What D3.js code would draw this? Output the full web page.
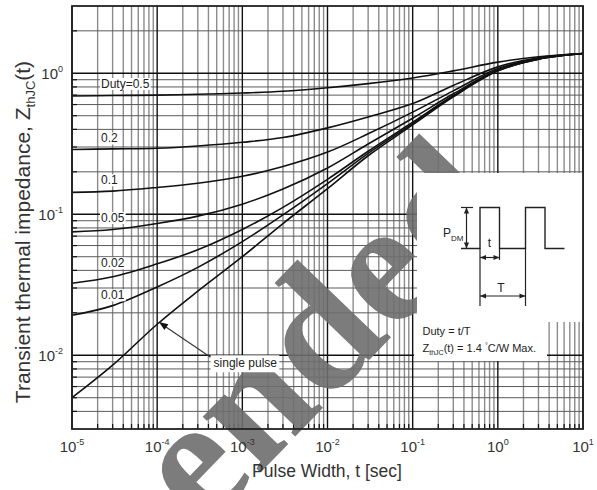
<!DOCTYPE html>
<html>
<head>
<meta charset="utf-8">
<script src="https://cdn.jsdelivr.net/npm/d3@7"></script>
<style>
  body { margin: 0; background: #fff; }
  svg { display: block; font-family: "Liberation Sans", Arial, sans-serif; }
</style>
</head>
<body>
<div id="chart"></div>
<script>
// pulse width samples [sec]
var pulseWidth = [1e-5, 3e-5, 1e-4, 3e-4, 1e-3, 3e-3, 1e-2, 3e-2, 1e-1, 3e-1, 1, 3, 10];

// Zth(t), one array per duty
var duty05 = [0.69, 0.695, 0.70, 0.71, 0.724, 0.745, 0.79, 0.845, 0.926, 1.04, 1.20, 1.31, 1.38];
var duty02 = [0.288, 0.291, 0.294, 0.305, 0.324, 0.35, 0.41, 0.49, 0.61, 0.82, 1.11, 1.29, 1.38];
var duty01 = [0.143, 0.146, 0.155, 0.166, 0.186, 0.218, 0.276, 0.372, 0.53, 0.75, 1.08, 1.27, 1.38];
var duty005 = [0.075, 0.078, 0.086, 0.097, 0.118, 0.151, 0.213, 0.315, 0.48, 0.715, 1.06, 1.27, 1.38];
var duty002 = [0.0324, 0.036, 0.0445, 0.056, 0.078, 0.112, 0.177, 0.28, 0.45, 0.695, 1.05, 1.26, 1.38];
var duty001 = [0.0192, 0.0225, 0.0305, 0.042, 0.064, 0.099, 0.165, 0.27, 0.44, 0.69, 1.04, 1.26, 1.38];
var singlePulse = [0.0050, 0.0085, 0.0166, 0.0285, 0.050, 0.086, 0.152, 0.26, 0.43, 0.68, 1.04, 1.26, 1.38];

var curveLabels = ["Duty=0.5", "0.2", "0.1", "0.05", "0.02", "0.01"];
var allSeries = [duty05, duty02, duty01, duty005, duty002, duty001, singlePulse];

var xTickExp = [-5, -4, -3, -2, -1, 0, 1];
var yTickExp = [-2, -1, 0];

var width = 597, height = 490;
var margin = {top: 6, right: 14, bottom: 61, left: 72};
var w = width - margin.left - margin.right,
    h = height - margin.top - margin.bottom;

var svg = d3.select("#chart").append("svg")
    .attr("width", width).attr("height", height);

var g = svg.append("g")
    .attr("transform", "translate(" + margin.left + "," + margin.top + ")");

var x = d3.scaleLog().domain([1e-5, 10]).range([0, w]);
var y = d3.scaleLog().domain([3e-3, 3]).range([h, 0]);

// grid values
var xMinor = [], xMajor = [];
for (var e = -5; e < 1; e++) {
  for (var m = 2; m <= 9; m++) xMinor.push(m * Math.pow(10, e));
}
xTickExp.forEach(function(d) { xMajor.push(Math.pow(10, d)); });
var yMinor = [], yMajor = [];
for (var e = -3; e <= 0; e++) {
  for (var m = 2; m <= 9; m++) {
    var v = m * Math.pow(10, e);
    if (v > 3e-3 && v < 3) yMinor.push(v);
  }
}
yTickExp.forEach(function(d) { yMajor.push(Math.pow(10, d)); });

g.selectAll(".vminor").data(xMinor).enter().append("line")
    .attr("x1", function(d) { return x(d); }).attr("x2", function(d) { return x(d); })
    .attr("y1", 0).attr("y2", h)
    .attr("stroke", "#8c8c8c").attr("stroke-width", 1.4);

g.selectAll(".hminor").data(yMinor).enter().append("line")
    .attr("x1", 0).attr("x2", w)
    .attr("y1", function(d) { return y(d); }).attr("y2", function(d) { return y(d); })
    .attr("stroke", "#5a5a5a").attr("stroke-width", 1);

g.selectAll(".vmajor").data(xMajor).enter().append("line")
    .attr("x1", function(d) { return x(d); }).attr("x2", function(d) { return x(d); })
    .attr("y1", 0).attr("y2", h)
    .attr("stroke", "#111").attr("stroke-width", 1.4);

g.selectAll(".hmajor").data(yMajor).enter().append("line")
    .attr("x1", 0).attr("x2", w)
    .attr("y1", function(d) { return y(d); }).attr("y2", function(d) { return y(d); })
    .attr("stroke", "#111").attr("stroke-width", 1.4);

// small inner ticks on left and bottom
g.selectAll(".xtk").data(xMinor).enter().append("line")
    .attr("x1", function(d) { return x(d); }).attr("x2", function(d) { return x(d); })
    .attr("y1", h).attr("y2", h - 5)
    .attr("stroke", "#111").attr("stroke-width", 1.2);
g.selectAll(".ytk").data(yMinor).enter().append("line")
    .attr("x1", 0).attr("x2", 5)
    .attr("y1", function(d) { return y(d); }).attr("y2", function(d) { return y(d); })
    .attr("stroke", "#111").attr("stroke-width", 1.2);

// curves
var line = d3.line()
    .x(function(d, i) { return x(pulseWidth[i]); })
    .y(function(d) { return y(d); })
    .curve(d3.curveCatmullRom.alpha(0.5));

g.selectAll(".curve").data(allSeries).enter().append("path")
    .attr("d", function(d) { return line(d); })
    .attr("fill", "none")
    .attr("stroke", "#111")
    .attr("stroke-width", 1.6);

// watermark (under labels and inset)
svg.append("text")
    .attr("transform", "translate(514,210) rotate(-46)")
    .attr("text-anchor", "end")
    .attr("font-family", "'Liberation Serif', 'Times New Roman', serif")
    .attr("font-weight", "bold")
    .attr("font-size", 175)
    .attr("fill", "#6e6e6e")
    .attr("fill-opacity", 0.9)
    .text("Not Recommended");

var labLayer = svg.append("g")
    .attr("transform", "translate(" + margin.left + "," + margin.top + ")");

// curve labels with white backing
var labelDy = [-7, -6, -7, -9, -15, -15];
var labelX = 29;
var labelG = labLayer.selectAll(".lab").data(curveLabels).enter().append("g");
labelG.each(function(d, i) {
  var yy = y(allSeries[i][0]) + labelDy[i] - 1;
  var t = d3.select(this).append("text")
      .attr("x", labelX).attr("y", yy)
      .attr("font-size", 12).attr("fill", "#222")
      .text(d);
  var bb = t.node().getBBox();
  d3.select(this).insert("rect", ":first-child")
      .attr("x", bb.x - 1).attr("y", bb.y + 1)
      .attr("width", bb.width + 2).attr("height", bb.height - 2)
      .attr("fill", "#fff");
});

// single pulse label + arrow
var spG = labLayer.append("g");
var spx = x(4.6e-4), spy = y(1e-2) + 12;
var spText = spG.append("text").attr("x", spx).attr("y", spy)
    .attr("font-size", 12).attr("fill", "#222").text("single pulse");
var spbb = spText.node().getBBox();
spG.insert("rect", ":first-child")
    .attr("x", spbb.x - 3).attr("y", spbb.y - 1)
    .attr("width", spbb.width + 5).attr("height", spbb.height + 3)
    .attr("fill", "#fff");

var tipX = x(1.05e-4), tipY = y(0.0172);
var tailX = spbb.x - 3, tailY = spbb.y + 1;
spG.append("line").attr("x1", tailX).attr("y1", tailY).attr("x2", tipX + 4).attr("y2", tipY + 3)
    .attr("stroke", "#333").attr("stroke-width", 1.1);
var ang = Math.atan2(tipY - tailY, tipX - tailX);
var ah = 9, aw = 3.5;
spG.append("path")
    .attr("d", "M" + tipX + "," + tipY +
      "L" + (tipX - ah * Math.cos(ang) + aw * Math.sin(ang)) + "," + (tipY - ah * Math.sin(ang) - aw * Math.cos(ang)) +
      "L" + (tipX - ah * Math.cos(ang) - aw * Math.sin(ang)) + "," + (tipY - ah * Math.sin(ang) + aw * Math.cos(ang)) + "Z")
    .attr("fill", "#111");

// inset boxes (white)
var inset = svg.append("g");
inset.append("rect").attr("x", 417).attr("y", 173).attr("width", 166).attr("height", 149).attr("fill", "#fff");
inset.append("rect").attr("x", 414).attr("y", 320).attr("width", 133).attr("height", 41).attr("fill", "#fff");

// pulse diagram
var pk = "#222";
var pBase = 248.5, pTop = 207.5;
inset.append("path")
    .attr("d", "M461," + pBase + "H480V" + pTop + "H499.5V" + pBase + "H525.5V" + pTop + "H545V" + pBase + "H564.5")
    .attr("fill", "none").attr("stroke", pk).attr("stroke-width", 1.4);
inset.append("line").attr("x1", 461).attr("x2", 473).attr("y1", pTop).attr("y2", pTop)
    .attr("stroke", pk).attr("stroke-width", 1.2);
// extension lines
inset.append("line").attr("x1", 480).attr("x2", 480).attr("y1", pBase).attr("y2", 306).attr("stroke", pk).attr("stroke-width", 1.2);
inset.append("line").attr("x1", 525.5).attr("x2", 525.5).attr("y1", pBase).attr("y2", 306).attr("stroke", pk).attr("stroke-width", 1.2);
inset.append("line").attr("x1", 499.5).attr("x2", 499.5).attr("y1", pBase).attr("y2", 260).attr("stroke", pk).attr("stroke-width", 1.2);

function dblArrow(x1, y1, x2, y2) {
  inset.append("line").attr("x1", x1).attr("y1", y1).attr("x2", x2).attr("y2", y2)
      .attr("stroke", pk).attr("stroke-width", 1.2);
  var a = Math.atan2(y2 - y1, x2 - x1), L = 6, W = 2.6;
  [[x2, y2, a], [x1, y1, a + Math.PI]].forEach(function(p) {
    var tx = p[0], ty = p[1], an = p[2];
    inset.append("path").attr("d", "M" + tx + "," + ty +
        "L" + (tx - L * Math.cos(an) + W * Math.sin(an)) + "," + (ty - L * Math.sin(an) - W * Math.cos(an)) +
        "L" + (tx - L * Math.cos(an) - W * Math.sin(an)) + "," + (ty - L * Math.sin(an) + W * Math.cos(an)) + "Z")
      .attr("fill", pk);
  });
}
dblArrow(466.5, pTop, 466.5, pBase);
dblArrow(480, 257.5, 499.5, 257.5);
dblArrow(480, 296, 525.5, 296);

var pdm = inset.append("text").attr("x", 443).attr("y", 237).attr("font-size", 12).attr("fill", "#222");
pdm.append("tspan").text("P");
pdm.append("tspan").attr("font-size", 8).attr("dy", 4).text("DM");
inset.append("text").attr("x", 489.5).attr("y", 247).attr("font-size", 12).attr("fill", "#222")
    .attr("text-anchor", "middle").text("t");
inset.append("text").attr("x", 501).attr("y", 292).attr("font-size", 12).attr("fill", "#222")
    .attr("text-anchor", "middle").text("T");

inset.append("text").attr("x", 422.5).attr("y", 335).attr("font-size", 11).attr("fill", "#222")
    .text("Duty = t/T");
var zt = inset.append("text").attr("x", 422.5).attr("y", 351.5).attr("font-size", 11).attr("fill", "#222");
zt.append("tspan").text("Z");
zt.append("tspan").attr("font-size", 7).attr("dy", 3).text("thJC");
zt.append("tspan").attr("dy", -3).text("(t) = 1.4 ");
zt.append("tspan").attr("font-size", 7).attr("dy", -4).text("°");
zt.append("tspan").attr("dy", 4).text("C/W Max.");

var top2 = svg.append("g")
    .attr("transform", "translate(" + margin.left + "," + margin.top + ")");

// frame
top2.append("rect").attr("x", 0).attr("y", 0).attr("width", w).attr("height", h)
    .attr("fill", "none").attr("stroke", "#222").attr("stroke-width", 1.8);

// tick labels
var xl = top2.selectAll(".xl").data(xTickExp).enter().append("text")
    .attr("x", function(d) { return x(Math.pow(10, d)); })
    .attr("y", h + 23)
    .attr("text-anchor", "middle")
    .attr("font-size", 15).attr("fill", "#333");
xl.append("tspan").text("10");
xl.append("tspan").attr("font-size", 9).attr("dy", -7).text(function(d) { return d; });

var yl = top2.selectAll(".yl").data(yTickExp).enter().append("text")
    .attr("x", -9)
    .attr("y", function(d) { return y(Math.pow(10, d)) + 6; })
    .attr("text-anchor", "end")
    .attr("font-size", 15).attr("fill", "#333");
yl.append("tspan").text("10");
yl.append("tspan").attr("font-size", 9).attr("dy", -7).text(function(d) { return d; });

// axis titles
svg.append("text").attr("x", 327).attr("y", 477)
    .attr("text-anchor", "middle").attr("font-size", 17.5).attr("fill", "#333")
    .text("Pulse Width, t [sec]");

var yt = svg.append("text")
    .attr("transform", "translate(30,232) rotate(-90)")
    .attr("text-anchor", "middle").attr("font-size", 21).attr("fill", "#333");
yt.append("tspan").text("Transient thermal impedance, Z");
yt.append("tspan").attr("font-size", 13).attr("dy", 5).text("thJC");
yt.append("tspan").attr("dy", -5).text("(t)");
</script>
</body>
</html>
